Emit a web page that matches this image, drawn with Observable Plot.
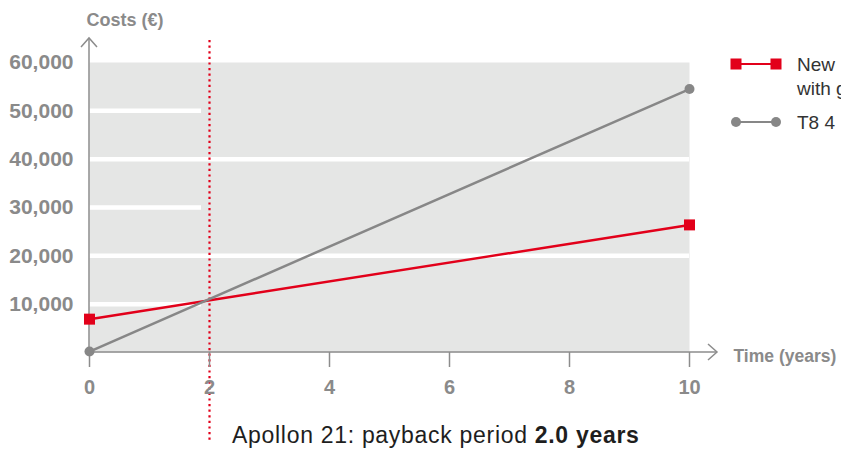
<!DOCTYPE html>
<html><head><meta charset="utf-8">
<script src="https://cdn.jsdelivr.net/npm/d3@7"></script>
<script src="https://cdn.jsdelivr.net/npm/@observablehq/plot@0.6"></script>
<style>
html,body{margin:0;padding:0;background:#fff;overflow:hidden}
#chart svg{overflow:hidden;display:block}
</style></head><body><div id="chart"></div>
<script>
// ---- data ----
const years = [0, 10];
const newCosts = [6900, 26400];
const oldCosts = [200, 54500];
const seriesNames = ["New\nwith gear tray", "T8 4 × 58 W"];
const xTicks = [0, 2, 4, 6, 8, 10];
const yTicks = [10000, 20000, 30000, 40000, 50000, 60000];
const gridFull = [20000, 40000];
const gridPartial = [10000, 30000, 50000];
const payback = 2.0;
const yLabel = "Costs (€)";
const xLabel = "Time (years)";
const captionText = "Apollon 21: payback period ";
const captionBold = "2.0 years";

// ---- styles ----
const RED = "#e2001a", GRAY = "#878787", AXIS = "#8c8c8c", TXT = "#8a8a8a", BG = "#e5e6e5";
const FONT = "'Liberation Sans', Arial, Helvetica, sans-serif";

const rows = [
  ...years.map((t, i) => ({t, cost: newCosts[i], s: 0})),
  ...years.map((t, i) => ({t, cost: oldCosts[i], s: 1}))
];

function decor(index, scales, values, dims) {
  const g = d3.create("svg:g").attr("text-anchor", "start");
  const x0 = scales.x(0), y0 = scales.y(0);
  const yTop = dims.marginTop - 24, xEnd = dims.width - dims.marginRight + 28;
  // axes with arrows
  g.append("path").attr("d", `M${x0},${y0}V${yTop}`).attr("stroke", AXIS).attr("stroke-width", 1.5).attr("fill", "none");
  g.append("path").attr("d", `M${x0-8},${yTop+9}L${x0},${yTop}L${x0+8},${yTop+9}`).attr("stroke", AXIS).attr("stroke-width", 1.5).attr("fill", "none");
  g.append("path").attr("d", `M${x0},${y0}H${xEnd}`).attr("stroke", AXIS).attr("stroke-width", 1.5).attr("fill", "none");
  g.append("path").attr("d", `M${xEnd-9},${y0-8}L${xEnd},${y0}L${xEnd-9},${y0+8}`).attr("stroke", AXIS).attr("stroke-width", 1.5).attr("fill", "none");
  // legend
  const lx = dims.width - dims.marginRight + 46;
  const items = [{y: 64, color: RED, sym: "square", name: seriesNames[0]}, {y: 122, color: GRAY, sym: "circle", name: seriesNames[1]}];
  for (const it of items) {
    g.append("line").attr("x1", lx).attr("x2", lx + 40).attr("y1", it.y).attr("y2", it.y).attr("stroke", it.color).attr("stroke-width", 2.2);
    for (const cx of [lx + 1, lx + 41]) {
      if (it.sym === "square") g.append("rect").attr("x", cx - 5.5).attr("y", it.y - 5.5).attr("width", 11).attr("height", 11).attr("fill", it.color);
      else g.append("circle").attr("cx", cx).attr("cy", it.y).attr("r", 5).attr("fill", it.color);
    }
    const t = g.append("text").attr("x", lx + 62).attr("y", it.y).attr("font-family", FONT).attr("font-size", 19).attr("fill", "#333").attr("text-anchor", "start");
    it.name.split("\n").forEach((ln, i) => t.append("tspan").attr("x", lx + 62).attr("dy", i === 0 ? "0.35em" : 24).text(ln));
  }
  // caption
  const c = g.append("text").attr("x", scales.x(payback) + 23).attr("y", 443).attr("font-family", FONT).attr("font-size", 23).attr("fill", "#1e1e1e").attr("letter-spacing", 0.7).attr("text-anchor", "start");
  c.append("tspan").text(captionText);
  c.append("tspan").attr("font-weight", "bold").text(captionBold);
  return g.node();
}

const chart = Plot.plot({
  width: 841, height: 450,
  marginLeft: 89, marginRight: 152, marginTop: 62, marginBottom: 98,
  style: {fontFamily: FONT, background: "#fff"},
  x: {domain: [0, 10]},
  y: {domain: [0, 60000]},
  marks: [
    Plot.frame({fill: BG, stroke: null}),
    Plot.ruleY(gridFull, {stroke: "#fff", strokeWidth: 4.5}),
    Plot.ruleY(gridPartial, {x1: 0, x2: payback, stroke: "#fff", strokeWidth: 4.5, insetRight: 8}),
    Plot.ruleX([payback], {stroke: RED, strokeWidth: 2.2, strokeDasharray: "2.2,3.4", insetTop: -22, insetBottom: -91}),
    Plot.axisY({ticks: yTicks, tickSize: 0, tickPadding: 16, tickFormat: d3.format(","), fontSize: 21, fontWeight: "bold", fill: TXT, label: null, style: {letterSpacing: "0.4px"}}),
    Plot.axisX({ticks: xTicks, tickSize: 15, tickPadding: 12, stroke: AXIS, strokeWidth: 1.5, fontSize: 20, fontWeight: "bold", fill: TXT, label: null}),
    Plot.text([yLabel], {frameAnchor: "top-left", lineAnchor: "middle", dx: -3, dy: -42, textAnchor: "start", fontSize: 18, fontWeight: "bold", fill: TXT, style: {letterSpacing: "0.3px"}}),
    Plot.text([xLabel], {frameAnchor: "bottom-right", lineAnchor: "middle", dx: 44, dy: 4, textAnchor: "start", fontSize: 17.5, fontWeight: "bold", fill: TXT, style: {letterSpacing: "0.4px"}}),
    decor,
    Plot.line(rows, {x: "t", y: "cost", z: "s", stroke: d => d.s === 0 ? RED : GRAY, strokeWidth: 2.5}),
    Plot.dot(rows.filter(d => d.s === 1), {x: "t", y: "cost", r: 5, fill: GRAY, symbol: "circle"}),
    Plot.dot(rows.filter(d => d.s === 0), {x: "t", y: "cost", r: 6.2, fill: RED, symbol: "square"})
  ]
});
document.getElementById("chart").append(chart);
</script></body></html>
